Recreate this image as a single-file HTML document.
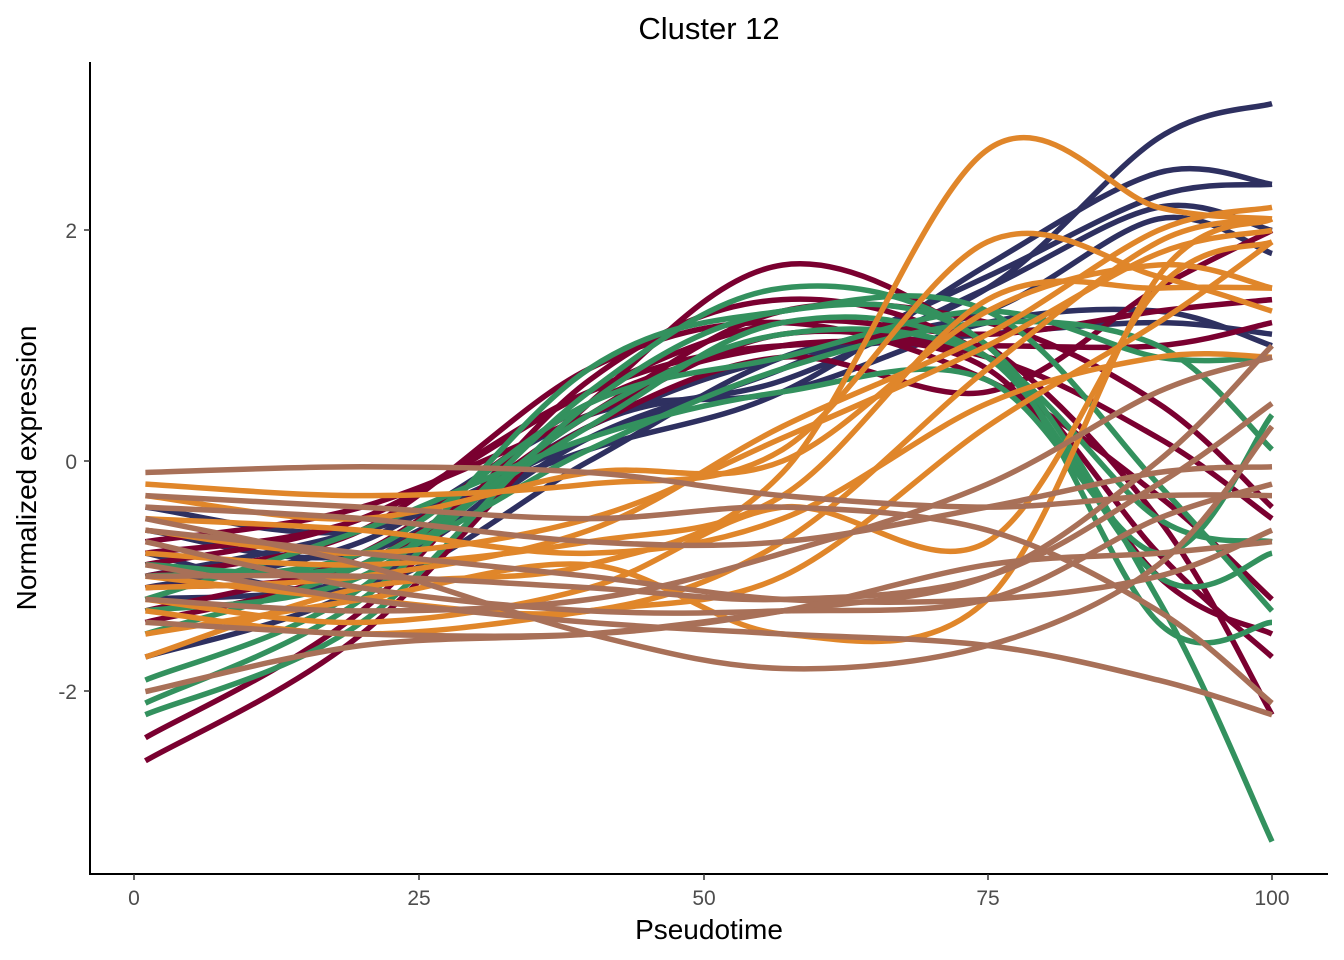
<!DOCTYPE html>
<html><head><meta charset="utf-8"><style>
body{margin:0;background:#fff;}
svg{display:block;font-family:"Liberation Sans",Arial,sans-serif;}
</style></head><body>
<svg id="s" width="1344" height="960" viewBox="0 0 1344 960">
<text x="709" y="39" font-size="31" text-anchor="middle" fill="#000">Cluster 12</text>
<g id="lines" fill="none" stroke-width="5.5" stroke-linecap="butt"></g>
<line x1="90" y1="62" x2="90" y2="875" stroke="#000" stroke-width="2"/>
<line x1="89" y1="874" x2="1328" y2="874" stroke="#000" stroke-width="2"/>
<g stroke="#333" stroke-width="1.5">
<line x1="84" y1="230" x2="90" y2="230"/><line x1="84" y1="461" x2="90" y2="461"/><line x1="84" y1="691" x2="90" y2="691"/>
<line x1="134" y1="874" x2="134" y2="880"/><line x1="419" y1="874" x2="419" y2="880"/><line x1="704" y1="874" x2="704" y2="880"/><line x1="988" y1="874" x2="988" y2="880"/><line x1="1272" y1="874" x2="1272" y2="880"/>
</g>
<g font-size="21" fill="#4d4d4d">
<text x="77" y="238" text-anchor="end">2</text><text x="77" y="469" text-anchor="end">0</text><text x="77" y="699" text-anchor="end">-2</text>
<text x="134" y="905" text-anchor="middle">0</text><text x="419" y="905" text-anchor="middle">25</text><text x="704" y="905" text-anchor="middle">50</text><text x="988" y="905" text-anchor="middle">75</text><text x="1272" y="905" text-anchor="middle">100</text>
</g>
<text x="709" y="939" font-size="28" text-anchor="middle" fill="#000">Pseudotime</text>
<text transform="translate(36,468) rotate(-90)" font-size="28" text-anchor="middle" fill="#000">Normalized expression</text>
</svg>
<script>
var T=[1,20,40,57,75,90,100];
function X(t){return 134+t*11.38;}
function Y(v){return 461-v*115.3;}
var S={
"#2e3060":[[-0.4,-0.6,0.2,0.8,1.5,2.8,3.1],[-1.0,-0.6,0.1,0.6,1.7,2.5,2.4],[-1.7,-1.1,0.3,0.7,1.5,2.2,2.0],[-0.8,-1.1,0.0,0.9,1.3,2.1,1.8],[-1.1,-0.7,0.4,0.6,1.2,1.3,1.0],[-0.6,-0.8,0.3,0.9,1.1,1.2,1.1],[-1.2,-1.0,0.2,0.8,1.6,2.3,2.4]],
"#7a0030":[[-2.6,-1.5,0.5,1.7,1.0,-0.5,-2.2],[-2.4,-1.3,0.7,1.4,0.9,-0.8,-1.7],[-0.8,-0.5,0.6,1.2,1.1,1.3,1.4],[-1.3,-0.8,0.5,1.0,1.0,1.0,1.2],[-0.7,-0.4,0.4,1.1,0.9,0.2,-0.5],[-1.0,-0.6,0.8,1.2,0.7,-0.3,-1.2],[-1.1,-0.9,0.3,0.9,0.6,1.5,2.0],[-0.9,-0.5,0.6,1.0,0.8,-1.0,-1.5],[-1.4,-0.9,0.4,1.3,1.2,0.5,-0.4]],
"#33915e":[[-2.1,-1.2,0.6,1.5,1.0,-1.2,-3.3],[-1.9,-1.1,0.8,1.3,1.3,-0.2,-1.3],[-1.5,-0.9,0.3,1.2,0.9,-1.0,-0.8],[-1.0,-0.8,0.5,0.9,1.3,0.9,0.9],[-1.2,-0.6,0.2,0.6,0.7,-0.8,0.4],[-2.2,-1.4,0.5,1.3,1.0,-1.4,-1.4],[-0.9,-0.9,0.1,0.8,1.2,1.0,0.1],[-1.3,-1.0,0.4,1.1,0.9,-0.5,-0.7]],
"#e0862a":[[-1.7,-1.1,-0.9,-0.1,2.7,2.2,2.1],[-0.2,-0.3,-0.2,0.1,1.9,1.6,1.3],[-1.5,-1.2,-0.9,-1.5,-1.2,1.6,2.1],[-0.3,-0.5,-0.1,0.0,1.3,1.7,1.5],[-1.2,-1.4,-1.1,-0.4,-0.7,1.5,1.9],[-0.6,-0.8,-0.5,0.2,1.0,1.8,2.0],[-1.0,-1.2,-1.3,-0.7,0.8,1.9,2.1],[-0.8,-0.9,-0.7,-0.3,1.4,1.5,1.5],[-1.3,-1.5,-1.3,-1.0,0.3,1.2,1.9],[-0.5,-0.6,-0.8,-0.5,0.5,0.9,0.9],[-1.1,-1.0,-0.6,0.3,1.1,2.0,2.2]],
"#a87058":[[-0.1,-0.05,-0.1,-0.3,-0.4,-0.3,-0.3],[-0.6,-0.8,-1.0,-1.2,-1.2,-1.0,-0.6],[-2.0,-1.6,-1.5,-1.3,-1.0,0.0,1.0],[-0.5,-0.9,-1.5,-1.8,-1.6,-0.9,0.3],[-0.7,-1.1,-1.3,-1.3,-1.2,-0.5,-0.2],[-1.2,-1.3,-1.2,-0.8,-0.2,0.6,0.9],[-0.9,-1.2,-1.4,-1.5,-1.6,-1.9,-2.2],[-0.4,-0.5,-0.7,-0.7,-0.4,-0.1,-0.05],[-1.4,-1.5,-1.5,-1.3,-0.9,-0.8,-0.7],[-0.3,-0.4,-0.5,-0.4,-0.6,-1.3,-2.1],[-1.0,-1.0,-1.1,-1.2,-1.0,-0.2,0.5]]
};
var g=document.getElementById('lines'),h='';
for(var c in S){S[c].forEach(function(v){
 var p=T.map(function(t,i){return [X(t),Y(v[i])];});
 var d='M'+p[0][0].toFixed(1)+' '+p[0][1].toFixed(1);
 for(var i=0;i<p.length-1;i++){
  var p0=p[i-1]||p[i],p1=p[i],p2=p[i+1],p3=p[i+2]||p[i+1];
  var c1=[p1[0]+(p2[0]-p0[0])/6,p1[1]+(p2[1]-p0[1])/6],c2=[p2[0]-(p3[0]-p1[0])/6,p2[1]-(p3[1]-p1[1])/6];
  d+=' C'+c1[0].toFixed(1)+' '+c1[1].toFixed(1)+' '+c2[0].toFixed(1)+' '+c2[1].toFixed(1)+' '+p2[0].toFixed(1)+' '+p2[1].toFixed(1);
 }
 h+='<path d="'+d+'" stroke="'+c+'"/>';
});}
g.innerHTML=h;
</script>
</body></html>
